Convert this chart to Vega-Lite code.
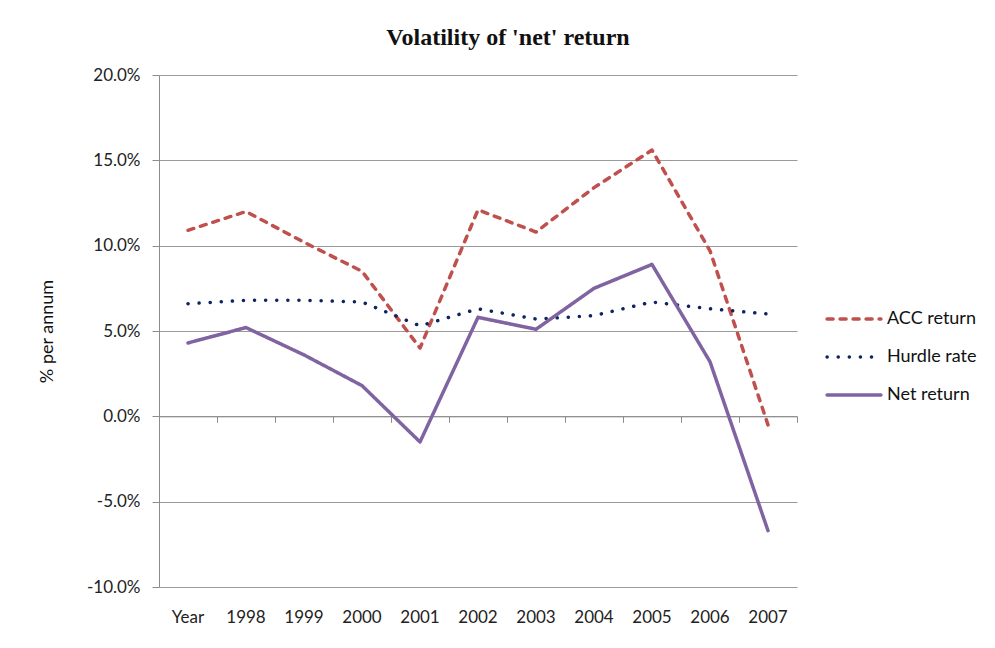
{
  "$schema": "https://vega.github.io/schema/vega-lite/v6.json",
  "width": 638,
  "height": 512,
  "autosize": "none",
  "padding": {"left": 159, "top": 75, "right": 198, "bottom": 61},
  "background": "white",
  "config": {
    "view": {"stroke": null},
    "font": "Lato",
    "axis": {"labelFont": "Lato", "titleFont": "Lato", "labelColor": "#222", "titleColor": "#111"}
  },
  "title": {
    "text": "Volatility of 'net' return",
    "font": "Liberation Serif",
    "fontSize": 24,
    "fontWeight": "bold",
    "color": "#111",
    "anchor": "middle",
    "dx": 30,
    "offset": 16
  },
  "data": {
    "values": [
      {"year": "Year", "series": "ACC return", "value": 0.109},
      {"year": "1998", "series": "ACC return", "value": 0.120},
      {"year": "1999", "series": "ACC return", "value": 0.102},
      {"year": "2000", "series": "ACC return", "value": 0.085},
      {"year": "2001", "series": "ACC return", "value": 0.040},
      {"year": "2002", "series": "ACC return", "value": 0.121},
      {"year": "2003", "series": "ACC return", "value": 0.108},
      {"year": "2004", "series": "ACC return", "value": 0.134},
      {"year": "2005", "series": "ACC return", "value": 0.156},
      {"year": "2006", "series": "ACC return", "value": 0.097},
      {"year": "2007", "series": "ACC return", "value": -0.005},
      {"year": "Year", "series": "Hurdle rate", "value": 0.066},
      {"year": "1998", "series": "Hurdle rate", "value": 0.068},
      {"year": "1999", "series": "Hurdle rate", "value": 0.068},
      {"year": "2000", "series": "Hurdle rate", "value": 0.067},
      {"year": "2001", "series": "Hurdle rate", "value": 0.053},
      {"year": "2002", "series": "Hurdle rate", "value": 0.063},
      {"year": "2003", "series": "Hurdle rate", "value": 0.057},
      {"year": "2004", "series": "Hurdle rate", "value": 0.059},
      {"year": "2005", "series": "Hurdle rate", "value": 0.067},
      {"year": "2006", "series": "Hurdle rate", "value": 0.063},
      {"year": "2007", "series": "Hurdle rate", "value": 0.060},
      {"year": "Year", "series": "Net return", "value": 0.043},
      {"year": "1998", "series": "Net return", "value": 0.052},
      {"year": "1999", "series": "Net return", "value": 0.036},
      {"year": "2000", "series": "Net return", "value": 0.018},
      {"year": "2001", "series": "Net return", "value": -0.015},
      {"year": "2002", "series": "Net return", "value": 0.058},
      {"year": "2003", "series": "Net return", "value": 0.051},
      {"year": "2004", "series": "Net return", "value": 0.075},
      {"year": "2005", "series": "Net return", "value": 0.089},
      {"year": "2006", "series": "Net return", "value": 0.032},
      {"year": "2007", "series": "Net return", "value": -0.067}
    ]
  },
  "resolve": {"axis": {"x": "independent"}},
  "layer": [
    {
      "mark": {"type": "line", "strokeWidth": 3.5, "strokeCap": "round", "strokeJoin": "round"},
      "encoding": {
        "x": {
          "field": "year",
          "type": "ordinal",
          "sort": ["Year", "1998", "1999", "2000", "2001", "2002", "2003", "2004", "2005", "2006", "2007"],
          "bandPosition": 0.5,
          "scale": {"type": "band", "paddingInner": 0, "paddingOuter": 0},
          "axis": {
            "orient": "bottom",
            "title": null,
            "domain": false,
            "ticks": false,
            "grid": false,
            "labelAngle": 0,
            "labelFontSize": 17,
            "labelPadding": 22
          }
        },
        "y": {
          "field": "value",
          "type": "quantitative",
          "scale": {"domain": [-0.1, 0.2], "nice": false, "zero": false},
          "axis": {
            "title": "% per annum",
            "titleFontSize": 18,
            "titleFontWeight": "normal",
            "titlePadding": 30,
            "values": [-0.1, -0.05, 0, 0.05, 0.1, 0.15, 0.2],
            "labelExpr": "replace(format(datum.value, '.1%'), '\u2212', '-')",
            "labelFontSize": 17,
            "labelPadding": 12,
            "domain": true,
            "domainColor": "#8c8c8c",
            "ticks": true,
            "tickSize": 7,
            "tickColor": "#8c8c8c",
            "grid": true,
            "gridColor": "#9a9a9a",
            "gridWidth": 1
          }
        },
        "color": {
          "field": "series",
          "type": "nominal",
          "scale": {"domain": ["ACC return", "Hurdle rate", "Net return"], "range": ["#C0504D", "#0E2460", "#8064A2"]},
          "legend": {
            "title": null,
            "orient": "none",
            "legendX": 666,
            "legendY": 215,
            "labelFont": "Lato",
            "labelFontSize": 18,
            "labelColor": "#111",
            "symbolType": "stroke",
            "symbolSize": 2900,
            "symbolStrokeWidth": 3.5,
            "rowPadding": -20,
            "labelOffset": 4,
            "encode": {"symbols": {"update": {"strokeCap": {"value": "round"}}}}
          }
        },
        "strokeDash": {
          "field": "series",
          "type": "nominal",
          "scale": {"domain": ["ACC return", "Hurdle rate", "Net return"], "range": [[6, 7], [0.1, 11], [1, 0]]},
          "legend": {
            "title": null,
            "orient": "none",
            "legendX": 666,
            "legendY": 215,
            "labelFont": "Lato",
            "labelFontSize": 18,
            "labelColor": "#111",
            "symbolType": "stroke",
            "symbolSize": 2900,
            "symbolStrokeWidth": 3.5,
            "rowPadding": -20,
            "labelOffset": 4,
            "encode": {"symbols": {"update": {"strokeCap": {"value": "round"}}}}
          }
        }
      }
    },
    {
      "mark": {"type": "rule", "strokeWidth": 0},
      "encoding": {
        "x": {
          "field": "year",
          "type": "ordinal",
          "sort": ["Year", "1998", "1999", "2000", "2001", "2002", "2003", "2004", "2005", "2006", "2007"],
          "bandPosition": 0.5,
          "axis": {
            "orient": "bottom",
            "offset": -170.67,
            "title": null,
            "labels": false,
            "grid": false,
            "domain": true,
            "domainColor": "#8c8c8c",
            "ticks": true,
            "tickBand": "extent",
            "tickSize": 6,
            "tickColor": "#8c8c8c"
          }
        },
        "y": {"datum": 0},
        "y2": {"datum": 0}
      }
    }
  ]
}
